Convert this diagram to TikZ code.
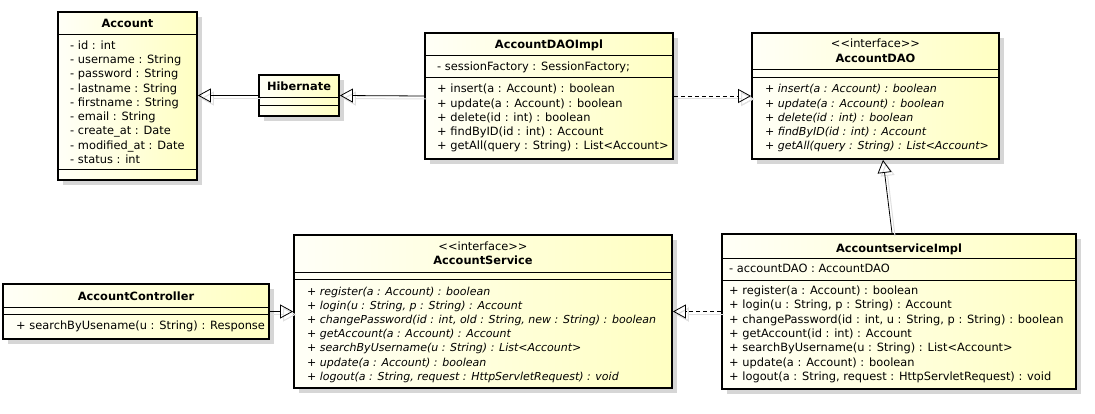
\documentclass[tikz,border=0pt]{standalone}
\usepackage{fontspec}
\setmainfont{DejaVu Sans}
\usetikzlibrary{arrows.meta,shadows}

\tikzset{
	umlclass/.style={draw, line width=1.8pt, inner sep=0pt, left color=yellow!3, right color=yellow!24,
		drop shadow={shadow xshift=5pt, shadow yshift=-5pt, fill=black!16, opacity=1}},
	title/.style={anchor=base, inner sep=0pt, font=\fontsize{11.4}{14.3}\selectfont\bfseries},
	stereo/.style={anchor=base, inner sep=0pt, font=\fontsize{11.4}{14.3}\selectfont},
	members/.style={anchor=base west, inner sep=0pt, font=\fontsize{11.4}{14.3}\selectfont},
	absmembers/.style={members, font=\fontsize{11}{14.3}\selectfont\itshape},
	gen/.style={line width=0.8pt, -{Triangle[open, length=13pt, width=14pt]},
		preaction={draw=black!12, line width=1pt, transform canvas={shift={(3pt,-3pt)}}}},
	real/.style={gen, dash pattern=on 4pt off 3pt,
		preaction={draw=black!12, solid, line width=1pt, transform canvas={shift={(3pt,-3pt)}}}},
}

\newcommand{\compsep}[2]{\draw[line width=0.8pt] (#1.west |- 0,#2) -- (#1.east |- 0,#2);}

\begin{document}
\begin{tikzpicture}[x=1pt, y=-1pt]
	\useasboundingbox (0,0) rectangle (1095,414);
	
	% boxes
	\node[umlclass, minimum width=139pt, minimum height=168pt] (account) at (127.5,96) {};
	\node[umlclass, minimum width=80pt, minimum height=41pt] (hibernate) at (299,95.5) {};
	\node[umlclass, minimum width=248pt, minimum height=126pt] (daoimpl) at (549,96) {};
	\node[umlclass, minimum width=247pt, minimum height=126pt] (dao) at (875.5,96) {};
	\node[umlclass, minimum width=378pt, minimum height=153pt] (service) at (483,311.5) {};
	\node[umlclass, minimum width=354pt, minimum height=155pt] (serviceimpl) at (899,311.5) {};
	\node[umlclass, minimum width=266pt, minimum height=55pt] (controller) at (136,311.5) {};
	
	\compsep{account}{34} \compsep{account}{169}
	\compsep{hibernate}{97} \compsep{hibernate}{105}
	\compsep{daoimpl}{55} \compsep{daoimpl}{77}
	\compsep{dao}{69} \compsep{dao}{77}
	\compsep{service}{272} \compsep{service}{279}
	\compsep{serviceimpl}{258} \compsep{serviceimpl}{280}
	\compsep{controller}{307} \compsep{controller}{314}
	
	% Account
	\node[title] (account-name) at (127.5,28) {Account};
	\foreach \txt [count=\i] in {{- id : int},{- username : String},{- password : String},{- lastname : String},{- firstname : String},{- email : String},{- create\_at : Date},{- modified\_at : Date},{- status : int}}
		\node[members] (account-attr\i) at (70,{49.5+14.25*(\i-1)}) {\txt};
	
	% Hibernate
	\node[title] (hibernate-name) at (299,91) {Hibernate};
	
	% AccountDAOImpl
	\node[title] (daoimpl-name) at (549,48.5) {AccountDAOImpl};
	\node[members] (daoimpl-attr) at (437,71) {- sessionFactory : SessionFactory;};
	\foreach \txt [count=\i] in {{+ insert(a : Account) : boolean},{+ update(a : Account) : boolean},{+ delete(id : int) : boolean},{+ findByID(id : int) : Account},{+ getAll(query : String) : List<Account>}}
		\node[members] (daoimpl-op\i) at (437,{93+14.25*(\i-1)}) {\txt};
	
	% AccountDAO
	\node[stereo] (dao-stereo) at (875.5,48) {<{}<interface>{}>};
	\node[title] (dao-name) at (875.5,63) {AccountDAO};
	\foreach \txt [count=\i] in {{+ insert(a : Account) : boolean},{+ update(a : Account) : boolean},{+ delete(id : int) : boolean},{+ findByID(id : int) : Account},{+ getAll(query : String) : List<Account>}}
		\node[absmembers] (dao-op\i) at (765,{93+14.25*(\i-1)}) {\txt};
	
	% AccountService
	\node[stereo] (service-stereo) at (483,251) {<{}<interface>{}>};
	\node[title] (service-name) at (483,265) {AccountService};
	\foreach \txt [count=\i] in {{+ register(a : Account) : boolean},{+ login(u : String, p : String) : Account},{+ changePassword(id : int, old : String, new : String) : boolean},{+ getAccount(a : Account) : Account},{+ searchByUsername(u : String) : List<Account>},{+ update(a : Account) : boolean},{+ logout(a : String, request : HttpServletRequest) : void}}
		\node[absmembers] (service-op\i) at (307,{295+14.2*(\i-1)}) {\txt};
	
	% AccountserviceImpl
	\node[title] (serviceimpl-name) at (899,252) {AccountserviceImpl};
	\node[members] (serviceimpl-attr) at (729,272.5) {- accountDAO : AccountDAO};
	\foreach \txt [count=\i] in {{+ register(a : Account) : boolean},{+ login(u : String, p : String) : Account},{+ changePassword(id : int, u : String, p : String) : boolean},{+ getAccount(id : int) : Account},{+ searchByUsername(u : String) : List<Account>},{+ update(a : Account) : boolean},{+ logout(a : String, request : HttpServletRequest) : void}}
		\node[members] (serviceimpl-op\i) at (729,{294.5+14.3*(\i-1)}) {\txt};
	
	% AccountController
	\node[title] (controller-name) at (136,300) {AccountController};
	\node[members] (controller-op) at (16,329.5) {+ searchByUsename(u : String) : Response};
	
	% relations
	\draw[gen] (hibernate.west) -- (account.east |- hibernate.west);
	\draw[gen] (daoimpl.west) -- (hibernate.east);
	\draw[real] (daoimpl.east) -- (dao.west);
	\draw[gen] ([xshift=-7pt]serviceimpl.north) -- ([xshift=7.5pt]dao.south);
	\draw[real] (serviceimpl.west) -- (service.east);
	\draw[gen] (controller.east) -- (service.west);
	
\end{tikzpicture}
\end{document}
